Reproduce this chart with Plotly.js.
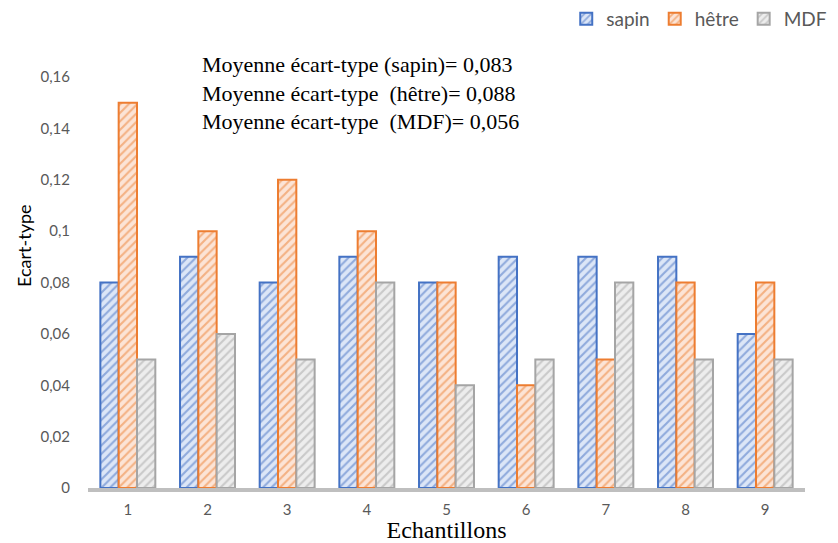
<!DOCTYPE html>
<html><head><meta charset="utf-8">
<script src="https://cdn.plot.ly/plotly-3.0.1.min.js"></script>
<style>html,body{margin:0;padding:0;background:#fff}#c{width:838px;height:543px}</style>
</head><body><div id="c"></div>
<script>
const categories = ['1','2','3','4','5','6','7','8','9'];
const sapin = [0.08,0.09,0.08,0.09,0.08,0.09,0.09,0.09,0.06];
const hetre = [0.15,0.10,0.12,0.10,0.08,0.04,0.05,0.08,0.08];
const mdf   = [0.05,0.06,0.05,0.08,0.04,0.05,0.08,0.05,0.05];
const yTicks = [0,0.02,0.04,0.06,0.08,0.1,0.12,0.14,0.16];
const yTickText = ['0','0,02','0,04','0,06','0,08','0,1','0,12','0,14','0,16'];
const notes = ['Moyenne écart-type (sapin)= 0,083','Moyenne écart-type  (hêtre)= 0,088','Moyenne écart-type  (MDF)= 0,056'];

function bar(name, y, line, bg, fg){
  return {type:'bar', name:name, x:categories, y:y,
    marker:{color:bg, line:{color:line,width:2},
      pattern:{shape:'/', bgcolor:bg, fgcolor:fg, size:6, solidity:0.35, fillmode:'replace'}}};
}
const data = [
  bar('sapin', sapin, '#4472C4', '#DCE6F7', '#8FAADC'),
  bar('hêtre', hetre, '#ED7D31', '#FCE4D6', '#F4B183'),
  bar('MDF', mdf, '#A5A5A5', '#EDEDED', '#C9C9C9')
];
const layout = {
  width:838, height:543,
  margin:{l:88, r:33, t:77, b:55},
  paper_bgcolor:'#fff', plot_bgcolor:'#fff',
  barmode:'group', bargap:0.31, bargroupgap:0,
  font:{family:'Lato, "Open Sans", sans-serif', color:'#595959'},
  xaxis:{type:'category', showgrid:false, showline:true, linecolor:'#BFBFBF', linewidth:4,
    ticks:'', tickfont:{size:15, color:'#595959'}, ticklabelstandoff:5,
    title:{text:'Echantillons', font:{family:'"Liberation Serif", serif', size:24, color:'#000'}, standoff:4}},
  yaxis:{range:[0,0.16], tickvals:yTicks, ticktext:yTickText, showgrid:false, zeroline:false, showline:false,
    ticks:'', tickfont:{size:15, color:'#595959'}, ticklabelstandoff:17},
  showlegend:true,
  legend:{orientation:'h', x:0.667, xanchor:'left', yref:'container', y:1, yanchor:'top',
    font:{size:19, color:'#595959'}, itemwidth:30, traceorder:'normal', tracegroupgap:0},
  annotations:[
    {text:'Ecart-type', xref:'paper', yref:'paper', x:-0.09, y:0.59, textangle:-90, showarrow:false,
      xanchor:'center', yanchor:'middle', font:{family:'Lato, sans-serif', size:18, color:'#000'}},
    {text:notes.join('<br>'), xref:'paper', yref:'paper', x:0.156, y:1.065, xanchor:'left', yanchor:'top',
      align:'left', showarrow:false, font:{family:'"Liberation Serif", serif', size:22, color:'#000'}}
  ]
};
Plotly.newPlot('c', data, layout, {displayModeBar:false});
</script></body></html>
